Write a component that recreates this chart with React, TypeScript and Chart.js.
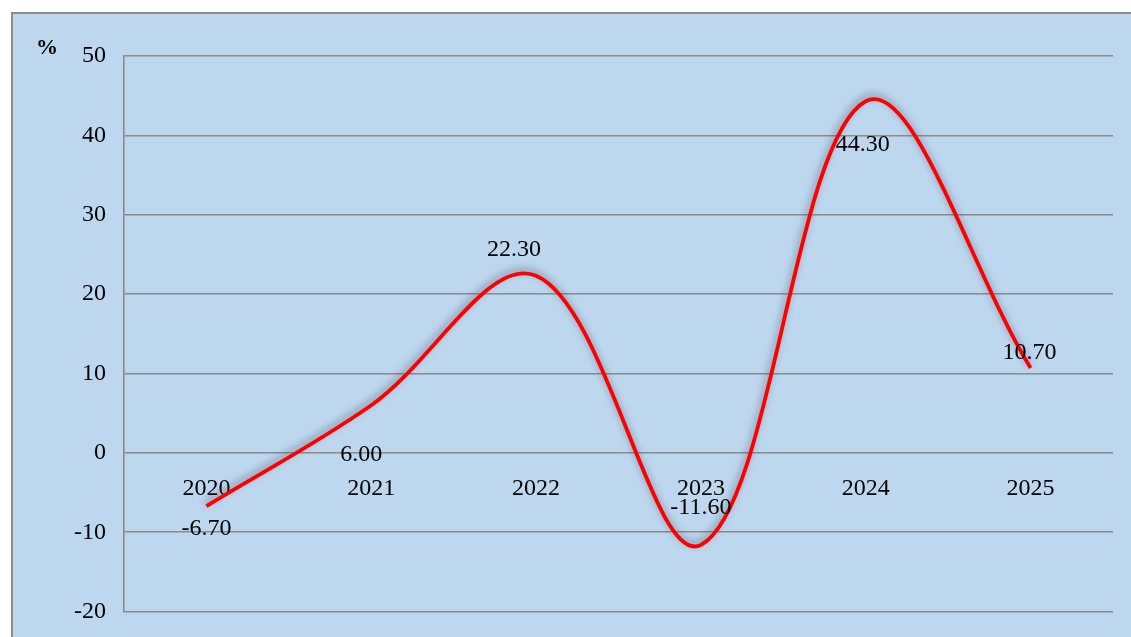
import React, { useEffect, useRef } from "react";
import { Chart, registerables, type Plugin } from "chart.js";

Chart.register(...registerables);

const years = ["2020", "2021", "2022", "2023", "2024", "2025"];
const growth = [-6.7, 6.0, 22.3, -11.6, 44.3, 10.7];
const yTicks = [-20, -10, 0, 10, 20, 30, 40, 50];

const FONT = "'Liberation Serif', 'Times New Roman', serif";

// where each value label sits relative to its point (px)
const labelOffsets: [number, number][] = [
  [0, 23],
  [-10, 49],
  [-22, -26],
  [0, -37],
  [-3, 43],
  [-1, -15],
];

const lineShadow: Plugin<"line"> = {
  id: "lineShadow",
  beforeDatasetsDraw: (chart) => {
    const ctx = chart.ctx;
    ctx.save();
    ctx.shadowColor = "rgba(70, 80, 100, 0.55)";
    ctx.shadowBlur = 7;
    ctx.shadowOffsetX = -1;
    ctx.shadowOffsetY = -3;
  },
  afterDatasetsDraw: (chart) => {
    chart.ctx.restore();
  },
};

const valueLabels: Plugin<"line"> = {
  id: "valueLabels",
  afterDraw: (chart) => {
    const ctx = chart.ctx;
    const meta = chart.getDatasetMeta(0);
    ctx.save();
    ctx.font = `24px ${FONT}`;
    ctx.fillStyle = "#000";
    ctx.textAlign = "center";
    ctx.textBaseline = "middle";
    meta.data.forEach((pt, i) => {
      const v = growth[i];
      const [dx, dy] = labelOffsets[i];
      ctx.fillText(v.toFixed(2), pt.x + dx, pt.y + dy);
    });
    // unit label
    ctx.font = `bold 22px ${FONT}`;
    ctx.fillText("%", 47, 48);
    ctx.restore();
  },
};

const GrowthChart = () => {
  const canvasRef = useRef<HTMLCanvasElement>(null);

  useEffect(() => {
    const ctx = canvasRef.current?.getContext("2d");
    if (!ctx) return;

    const chart = new Chart(ctx, {
      type: "line",
      data: {
        labels: years,
        datasets: [
          {
            data: growth,
            borderColor: "#FF0000",
            borderWidth: 3.8,
            tension: 0.36,
            pointRadius: 0,
            fill: false,
          },
        ],
      },
      options: {
        animation: false,
        responsive: false,
        maintainAspectRatio: false,
        layout: {
          padding: { left: 0, top: 56, right: 18, bottom: 19 },
        },
        scales: {
          x: {
            position: { y: 0 },
            offset: true,
            grid: { display: false, drawTicks: false },
            border: { display: false },
            ticks: {
              color: "#000",
              padding: 21,
              font: { family: FONT, size: 24 },
              maxRotation: 0,
            },
          },
          y: {
            min: -20,
            max: 50,
            afterFit: (scale) => {
              scale.width = 124;
            },
            afterBuildTicks: (scale) => {
              scale.ticks = yTicks.map((v) => ({ value: v }));
            },
            grid: {
              color: "#8a8a8a",
              lineWidth: 1.6,
              drawTicks: false,
            },
            border: { display: true, color: "#8a8a8a", width: 1.6 },
            ticks: {
              color: "#000",
              padding: 18,
              font: { family: FONT, size: 24 },
            },
          },
        },
        plugins: {
          legend: { display: false },
          tooltip: { enabled: false },
        },
      },
      plugins: [lineShadow, valueLabels],
    });

    return () => {
      chart.destroy();
    };
  }, []);

  // canvas is a bit taller than the page so the plot runs down to the edge
  return (
    <div
      style={{
        position: "fixed",
        left: 0,
        top: 0,
        width: 1131,
        height: 637,
        background: "#fff",
        overflow: "hidden",
      }}
    >
      <div
        style={{
          position: "absolute",
          left: 11,
          top: 12,
          width: 1200,
          height: 700,
          background: "#BDD7EE",
          borderTop: "2.5px solid #8c8c8c",
          borderLeft: "2.5px solid #8c8c8c",
        }}
      />
      <canvas
        ref={canvasRef}
        width={1131}
        height={644}
        style={{ position: "absolute", left: 0, top: 0, width: 1131, height: 644 }}
      />
    </div>
  );
};

export default function App() {
  return <GrowthChart />;
}
